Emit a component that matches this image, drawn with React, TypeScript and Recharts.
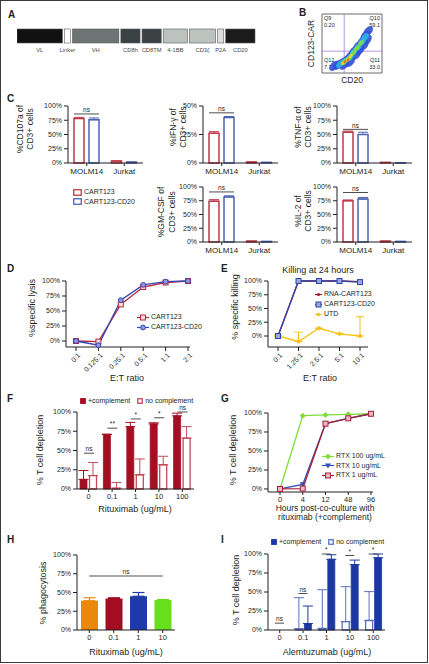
import React from "react";
import {
  BarChart,
  Bar,
  LineChart,
  Line,
  ScatterChart,
  Scatter,
  XAxis,
  YAxis,
  ErrorBar,
  ReferenceLine,
  ReferenceArea,
  LabelList,
  Legend,
} from "recharts";

// ---------- data ----------

// A: CAR construct, segment lengths as drawn
const constructParts = ["VL", "Linker", "VH", "CD8h", "CD8TM", "4-1BB", "CD3ζ", "P2A", "CD20"];
const constructLengths = [47, 8, 48, 21, 21, 26, 28, 8, 31];

// B: flow plot
const quadrantNames = ["Q9", "Q10", "Q12", "Q11"];
const quadrantValues = ["0.20", "59.1", "7.73", "33.0"];
const quadrantCutX = 37;
const quadrantCutY = 37;
const flowX = [20, 27, 33, 40, 47, 53, 60, 67, 72, 77, 37, 47, 57, 63, 70, 75, 30, 38, 47, 53, 60, 67, 72, 37, 45, 52, 58, 65, 35, 42, 48, 38, 43];
const flowY = [12, 14, 17, 22, 29, 37, 46, 54, 63, 71, 14, 19, 31, 39, 47, 56, 15, 20, 27, 36, 44, 53, 61, 19, 25, 34, 42, 51, 17, 22, 29, 19, 22];
const flowLevel = [0, 0, 0, 0, 0, 0, 0, 0, 0, 0, 0, 0, 0, 0, 0, 0, 1, 1, 1, 1, 1, 1, 1, 2, 2, 2, 2, 2, 3, 3, 3, 4, 4];

// C: cytokines (CD107a, IFN-γ, TNF-α, GM-CSF, IL-2)
const targetCells = ["MOLM14", "Jurkat"];
const molm14CART123 = [78, 26, 54, 74, 75];
const molm14CART123Err = [2, 1.5, 2, 3, 1.5];
const molm14CD20 = [76, 40, 50, 82, 78];
const molm14CD20Err = [3, 0.8, 4, 2, 3];
const jurkatCART123 = [3.5, 0.8, 1, 1.5, 1.5];
const jurkatCD20 = [1.5, 0.5, 0.3, 1, 1];
const cytokineNsHeight = [86, 44, 59, 91, 90];

// D: lysis
const etRatiosD = ["0:1", "0.125:1", "0.25:1", "0.5:1", "1:1", "2:1"];
const lysisCART123 = [0, -1, 61, 90, 97.5, 100];
const lysisCD20 = [0, -7, 68, 93.5, 99, 100];

// E: killing at 24 h
const etRatiosE = ["0:1", "1.25:1", "2.5:1", "5:1", "10:1"];
const killRNA = [0, 100, 100, 100, 99];
const killCD20 = [0, 100, 100, 100, 98];
const killUTD = [0, -10, 14, 4, 0];
const killUTDErr = [0, 17, 0, 0, 35];

// F: rituximab depletion
const rituxDoses = ["0", "0.1", "1", "10", "100"];
const rituxComp = [12.5, 71, 81, 84.5, 95];
const rituxCompErr = [11.5, 0, 5.5, 1.5, 3.5];
const rituxNoComp = [17.5, 1, 18.5, 31.5, 66];
const rituxNoCompErr = [17, 7.5, 20.5, 11, 15];
const rituxSig = ["ns", "**", "*", "*", "ns"];
const rituxSigHeight = [46.5, 79, 91, 92.5, 100];

// G: kinetics
const hours = ["0", "4", "12", "48", "96"];
const rtx100 = [0, 96.5, 97.5, 98.2, 99];
const rtx10 = [0, 6, 86, 93, 99];
const rtx1 = [0, 0.5, 86, 93, 99];

// H: phagocytosis
const phagoDoses = ["0", "0.1", "1", "10"];
const phagocytosis = [39, 42, 45, 40];
const phagocytosisErr = [4, 1, 5, 0.5];
const phagoNsHeight = 72;

// I: alemtuzumab depletion
const alemDoses = ["0", "0.1", "1", "10", "100"];
const alemNoComp = [0, 1.5, 2, 11, 12.5];
const alemNoCompErr = [0, 41, 51, 46, 38];
const alemComp = [0, 8.5, 93, 86, 95];
const alemCompErr = [0, 23, 6, 6, 5];
const alemSig = ["ns", "ns", "*", "*", "*"];
const alemSigHeight = [9, 48, 100, 98, 100];

// ---------- styles ----------
const FONT = "'Liberation Sans', Arial, Helvetica, 'DejaVu Sans', sans-serif";
const INK = "#231f20";
const pctTicks = [0, 25, 50, 75, 100];
const pct = (v: number) => `${v}%`;
const tick7 = { fontSize: 7, fill: INK, fontFamily: FONT };
const cat8 = { fontSize: 8, fill: INK, fontFamily: FONT };
const cat75 = { fontSize: 7.5, fill: INK, fontFamily: FONT };

const constructFill: Record<string, string> = {
  VL: "#111111",
  Linker: "#ffffff",
  VH: "#6e7473",
  CD8h: "#3c4143",
  CD8TM: "#3c4143",
  "4-1BB": "#bcc3bf",
  "CD3ζ": "#bcc3bf",
  P2A: "#dcdedd",
  CD20: "#1b1b1b",
};
const blobColor = ["#3150d6", "#2cb6e0", "#84df3e", "#f2d31f", "#e8642a"];
const blobR = [4.6, 3.5, 2.6, 1.9, 1.3];

const C_RED = "#be3a4a";
const C_BLUE = "#4d64b3";
const D_RED = "#b3283d";
const D_BLUE = "#3446b0";
const E_RED = "#a3132b";
const E_BLUE = "#2b46a8";
const E_YEL = "#f3c316";
const F_RED = "#a50f24";
const F_PINK = "#c24a5a";
const G_GREEN = "#7fdc3c";
const G_BLUE = "#3350b3";
const G_RED = "#a8213b";
const H_COLORS = ["#e8890c", "#a30d22", "#1e3aa8", "#66df1d"];
const I_BLUE = "#1c38a2";
const I_LIGHT = "#5a70bd";

// ---------- helpers ----------
type Box = { x0: number; y0: number; x1: number; y1: number };

function canvas(b: Box, left: number, top: number, right: number, bottom: number) {
  return {
    left,
    top,
    width: right - left,
    height: bottom - top,
    margin: { top: b.y0 - top, right: right - b.x1, bottom: 0, left: 0 },
    yw: b.x0 - left,
    xh: bottom - b.y1,
  };
}

const At = ({ f, children }: { f: { left: number; top: number }; children: React.ReactNode }) => (
  <div style={{ position: "absolute", left: f.left, top: f.top }}>{children}</div>
);

function yTitle(lines: string[], xs: number[], cy?: number, size = 8.5) {
  return (p: any) => {
    const vb = p.viewBox ?? {};
    const y = cy ?? (vb.y ?? 0) + (vb.height ?? 0) / 2;
    return (
      <g>
        {lines.map((t, i) => (
          <text
            key={i}
            x={xs[i]}
            y={y}
            transform={`rotate(-90 ${xs[i]} ${y})`}
            textAnchor="middle"
            dominantBaseline="central"
            fontSize={size}
            fontFamily={FONT}
            fill={INK}
          >
            {t}
          </text>
        ))}
      </g>
    );
  };
}

function xTitle(lines: string[], x: number, ys: number[], size = 8.5) {
  return () => (
    <g>
      {lines.map((t, i) => (
        <text key={i} x={x} y={ys[i]} textAnchor="middle" dominantBaseline="central" fontSize={size} fontFamily={FONT} fill={INK}>
          {t}
        </text>
      ))}
    </g>
  );
}

const SlantTick = (p: any) => {
  const x = p.x + 3;
  const y = p.y + 1;
  return (
    <text x={x} y={y} transform={`rotate(-45 ${x} ${y})`} textAnchor="end" dominantBaseline="central" fontSize={7} fontFamily={FONT} fill={INK}>
      {p.payload.value}
    </text>
  );
};

// significance bracket drawn on top of an invisible bar
const SigMark = (p: any) => {
  const label = p.payload?.sig;
  if (!label || p.value == null) return <g />;
  return (
    <g>
      <line x1={p.x} x2={p.x + p.width} y1={p.y} y2={p.y} stroke={INK} strokeWidth={0.8} />
      <text x={p.x + p.width / 2} y={p.y - 1.8} textAnchor="middle" fontSize={6.5} fontFamily={FONT} fill={INK}>
        {label}
      </text>
    </g>
  );
};

function legendList(order: string[], icons: Record<string, React.ReactNode>, dir: "row" | "column", gap: number) {
  return (props: any) => {
    const items: any[] = props.payload ?? [];
    return (
      <div
        style={{
          display: "flex",
          flexDirection: dir,
          gap,
          fontFamily: FONT,
          fontSize: 7,
          color: INK,
          lineHeight: "8px",
          whiteSpace: "nowrap",
        }}
      >
        {order.map((k) => {
          const e = items.find((it) => it.dataKey === k);
          if (!e) return null;
          return (
            <div key={k} style={{ display: "flex", alignItems: "center", gap: 2 }}>
              {icons[k]}
              <span>{e.value}</span>
            </div>
          );
        })}
      </div>
    );
  };
}

const boxIcon = (stroke: string, fill: string, w = 9, h = 7) => (
  <svg width={w} height={h} style={{ display: "block" }}>
    <rect x={0.75} y={0.75} width={w - 1.5} height={h - 1.5} fill={fill} stroke={stroke} strokeWidth={1.3} />
  </svg>
);

const lineIcon = (color: string, marker: React.ReactNode, w = 12) => (
  <svg width={w} height={7} style={{ display: "block" }}>
    <line x1={0} x2={w} y1={3.5} y2={3.5} stroke={color} strokeWidth={1.2} />
    {marker}
  </svg>
);

const sqDot = (stroke: string, fill: string, s = 5) => (p: any) => (
  <rect key={p.index} x={p.cx - s / 2} y={p.cy - s / 2} width={s} height={s} fill={fill} stroke={stroke} strokeWidth={1} />
);
const circDot = (stroke: string, fill: string, r = 2.5) => (p: any) => (
  <circle key={p.index} cx={p.cx} cy={p.cy} r={r} fill={fill} stroke={stroke} strokeWidth={1} />
);
const diamondDot = (color: string, s = 3) => (p: any) => (
  <path key={p.index} d={`M${p.cx},${p.cy - s}L${p.cx + s},${p.cy}L${p.cx},${p.cy + s}L${p.cx - s},${p.cy}Z`} fill={color} />
);
const triDot = (color: string, s = 3) => (p: any) => (
  <path key={p.index} d={`M${p.cx - s},${p.cy - s * 0.7}L${p.cx + s},${p.cy - s * 0.7}L${p.cx},${p.cy + s}Z`} fill={color} />
);

const Letter = ({ ch, x, y }: { ch: string; x: number; y: number }) => (
  <div style={{ position: "absolute", left: x, top: y, fontFamily: FONT, fontWeight: 700, fontSize: 10, lineHeight: "10px", color: INK }}>
    {ch}
  </div>
);

// ---------- A ----------
function ConstructPanel() {
  const row = [Object.fromEntries([["name", "CAR"], ...constructParts.map((p, i) => [p, constructLengths[i]])])];
  const total = constructLengths.reduce((a, b) => a + b, 0);
  return (
    <div style={{ position: "absolute", left: 17, top: 22 }}>
      <BarChart width={240} height={44} layout="vertical" data={row} margin={{ top: 0, right: 0, bottom: 16, left: 0 }}>
        <XAxis type="number" domain={[0, total]} hide />
        <YAxis type="category" dataKey="name" hide />
        {constructParts.map((part) => (
          <Bar
            key={part}
            dataKey={part}
            stackId="car"
            barSize={14}
            isAnimationActive={false}
            shape={(p: any) => (
              <rect x={p.x} y={p.y} width={Math.max(p.width - 2, 0)} height={p.height} fill={constructFill[part]} stroke="#5a5a5a" strokeWidth={0.6} />
            )}
          >
            <LabelList
              content={(p: any) => (
                <text x={p.x + (p.width - 2) / 2} y={p.y + p.height + 9} textAnchor="middle" fontSize={5.8} fontFamily={FONT} fill="#4a4a4a">
                  {part}
                </text>
              )}
            />
          </Bar>
        ))}
      </BarChart>
    </div>
  );
}

// ---------- B ----------
const FlowBlob = (p: any) => {
  const lvl = p.payload.level;
  const r = blobR[lvl];
  return (
    <ellipse
      cx={p.cx}
      cy={p.cy}
      rx={r * 1.3}
      ry={r * 0.8}
      transform={`rotate(-48 ${p.cx} ${p.cy})`}
      fill={blobColor[lvl]}
      fillOpacity={0.9}
    />
  );
};

function FlowPanel() {
  const f = canvas({ x0: 322, y0: 14, x1: 382, y1: 73 }, 304, 10, 386, 87);
  const data = flowX.map((x, i) => ({ x, y: flowY[i], level: flowLevel[i] }));
  const quadLabels = (p: any) => {
    const vb = p.viewBox;
    const L = vb.x + 2;
    const R = vb.x + vb.width - 2;
    const T = vb.y + 4;
    const B = vb.y + vb.height - 13;
    const spots = [
      [L, T, "start"],
      [R, T, "end"],
      [L, B, "start"],
      [R, B, "end"],
    ] as const;
    return (
      <g>
        {spots.map(([x, y, a], i) => (
          <g key={i}>
            <text x={x} y={y} textAnchor={a} dominantBaseline="central" fontSize={5.5} fontFamily={FONT} fill={INK}>
              {quadrantNames[i]}
            </text>
            <text x={x} y={y + 7} textAnchor={a} dominantBaseline="central" fontSize={5.5} fontFamily={FONT} fill={INK}>
              {quadrantValues[i]}
            </text>
          </g>
        ))}
      </g>
    );
  };
  return (
    <At f={f}>
      <ScatterChart width={f.width} height={f.height} margin={f.margin}>
        <XAxis
          type="number"
          dataKey="x"
          domain={[0, 100]}
          height={f.xh}
          tick={false}
          tickLine={false}
          axisLine={false}
          label={xTitle(["CD20"], 352 - f.left, [80 - f.top], 8.5)}
        />
        <YAxis
          type="number"
          dataKey="y"
          domain={[0, 100]}
          width={f.yw}
          tick={false}
          tickLine={false}
          axisLine={false}
          label={yTitle(["CD123-CAR"], [311 - f.left], undefined, 8.5)}
        />
        <Scatter data={data} shape={FlowBlob} isAnimationActive={false} />
        <ReferenceLine x={quadrantCutX} stroke="#a27dd6" strokeWidth={0.8} />
        <ReferenceLine y={quadrantCutY} stroke="#a27dd6" strokeWidth={0.8} />
        <ReferenceArea x1={0} x2={100} y1={0} y2={100} fill="none" stroke="#444" strokeWidth={0.8} label={quadLabels} />
      </ScatterChart>
    </At>
  );
}

// ---------- C ----------
function CytokinePanel({
  k,
  box,
  area,
  yMax,
  titles,
  titleXs,
  titleCy,
  legend,
}: {
  k: number;
  box: Box;
  area: [number, number, number, number];
  yMax: number;
  titles: string[];
  titleXs: number[];
  titleCy: number;
  legend?: boolean;
}) {
  const f = canvas(box, ...area);
  const data = targetCells.map((cell, i) => ({
    cell,
    cart123: i === 0 ? molm14CART123[k] : jurkatCART123[k],
    cart123Err: [0, i === 0 ? molm14CART123Err[k] : 0],
    cd20: i === 0 ? molm14CD20[k] : jurkatCD20[k],
    cd20Err: [0, i === 0 ? molm14CD20Err[k] : 0],
    nsH: i === 0 ? cytokineNsHeight[k] : null,
    sig: i === 0 ? "ns" : "",
  }));
  const ticks = pctTicks.filter((t) => t <= yMax);
  return (
    <At f={f}>
      <BarChart width={f.width} height={f.height} margin={f.margin} data={data} barSize={10} barGap={5}>
        <XAxis dataKey="cell" height={f.xh} tick={cat8} tickSize={3} stroke={INK} interval={0} />
        <XAxis xAxisId="sig" dataKey="cell" hide />
        <YAxis
          width={f.yw}
          domain={[0, yMax]}
          ticks={ticks}
          tickFormatter={pct}
          tick={tick7}
          tickSize={4}
          stroke={INK}
          interval={0}
          label={yTitle(titles, titleXs.map((x) => x - f.left), titleCy - f.top)}
        />
        <Bar dataKey="cart123" name="CART123" fill="#fff" stroke={C_RED} strokeWidth={1.5} isAnimationActive={false}>
          <ErrorBar dataKey="cart123Err" width={5} stroke={C_RED} strokeWidth={1} direction="y" />
        </Bar>
        <Bar dataKey="cd20" name="CART123-CD20" fill="#fff" stroke={C_BLUE} strokeWidth={1.5} isAnimationActive={false}>
          <ErrorBar dataKey="cd20Err" width={5} stroke={C_BLUE} strokeWidth={1} direction="y" />
        </Bar>
        <Bar xAxisId="sig" dataKey="nsH" barSize={25} shape={SigMark} legendType="none" isAnimationActive={false} />
        {legend && (
          <Legend
            layout="horizontal"
            verticalAlign="middle"
            align="center"
            wrapperStyle={{ left: 73 - f.left, top: 188 - f.top, width: "auto" }}
            content={legendList(
              ["cart123", "cd20"],
              { cart123: boxIcon(C_RED, "#fff"), cd20: boxIcon(C_BLUE, "#fff") },
              "column",
              1.5
            )}
          />
        )}
      </BarChart>
    </At>
  );
}

// ---------- D ----------
function LysisPanel() {
  const f = canvas({ x0: 66, y0: 281, x1: 190, y1: 347 }, 22, 262, 205, 385);
  const data = etRatiosD.map((ratio, i) => ({ ratio, cart123: lysisCART123[i], cd20: lysisCD20[i] }));
  return (
    <At f={f}>
      <LineChart width={f.width} height={f.height} margin={f.margin} data={data}>
        <XAxis
          dataKey="ratio"
          height={f.xh}
          padding={{ left: 10, right: 2 }}
          tick={SlantTick}
          tickSize={4}
          stroke={INK}
          interval={0}
          label={xTitle(["E:T ratio"], 127 - f.left, [378 - f.top], 9)}
        />
        <YAxis
          width={f.yw}
          domain={[-10, 100]}
          ticks={pctTicks}
          tickFormatter={pct}
          tick={tick7}
          tickSize={4}
          stroke={INK}
          interval={0}
          label={yTitle(["%specific lysis"], [32 - f.left], 308 - f.top, 9)}
        />
        <Line dataKey="cart123" name="CART123" stroke={D_RED} strokeWidth={1.3} dot={sqDot(D_RED, "#f6dde2", 5)} isAnimationActive={false} />
        <Line dataKey="cd20" name="CART123-CD20" stroke={D_BLUE} strokeWidth={1.3} dot={circDot(D_BLUE, "#8e9be0", 2.4)} isAnimationActive={false} />
        <Legend
          layout="horizontal"
          verticalAlign="middle"
          align="center"
          wrapperStyle={{ left: 137 - f.left, top: 313 - f.top, width: "auto" }}
          content={legendList(
            ["cart123", "cd20"],
            {
              cart123: lineIcon(D_RED, <rect x={3.5} y={1} width={5} height={5} fill="#f6dde2" stroke={D_RED} strokeWidth={1} />),
              cd20: lineIcon(D_BLUE, <circle cx={6} cy={3.5} r={2.4} fill="#8e9be0" stroke={D_BLUE} strokeWidth={1} />),
            },
            "column",
            2
          )}
        />
      </LineChart>
    </At>
  );
}

// ---------- E ----------
function KillingPanel() {
  const f = canvas({ x0: 268, y0: 281, x1: 368, y1: 347 }, 225, 262, 395, 385);
  const data = etRatiosE.map((ratio, i) => ({
    ratio,
    rna: killRNA[i],
    cd20: killCD20[i],
    utd: killUTD[i],
    utdErr: [0, killUTDErr[i]],
  }));
  return (
    <>
      <div style={{ position: "absolute", left: 258, top: 265, width: 120, textAlign: "center", fontFamily: FONT, fontSize: 9, lineHeight: "10px", color: INK }}>
        Killing at 24 hours
      </div>
      <At f={f}>
        <LineChart width={f.width} height={f.height} margin={f.margin} data={data}>
          <XAxis
            dataKey="ratio"
            height={f.xh}
            padding={{ left: 10, right: 8 }}
            tick={SlantTick}
            tickSize={4}
            stroke={INK}
            interval={0}
            label={xTitle(["E:T ratio"], 320 - f.left, [378 - f.top], 9)}
          />
          <YAxis
            width={f.yw}
            domain={[-20, 100]}
            ticks={pctTicks}
            tickFormatter={pct}
            tick={tick7}
            tickSize={4}
            stroke={INK}
            interval={0}
            label={yTitle(["% specific killing"], [235 - f.left], 307 - f.top, 9)}
          />
          <Line dataKey="utd" name="UTD" stroke={E_YEL} strokeWidth={1.3} dot={circDot(E_YEL, E_YEL, 1.6)} isAnimationActive={false}>
            <ErrorBar dataKey="utdErr" width={4} stroke={E_YEL} strokeWidth={1} direction="y" />
          </Line>
          <Line dataKey="rna" name="RNA-CART123" stroke={E_RED} strokeWidth={1.3} dot={circDot(E_RED, E_RED, 1.5)} isAnimationActive={false} />
          <Line dataKey="cd20" name="CART123-CD20" stroke={E_BLUE} strokeWidth={1.3} dot={sqDot(E_BLUE, "#9aa6dc", 5)} isAnimationActive={false} />
          <Legend
            layout="horizontal"
            verticalAlign="middle"
            align="center"
            wrapperStyle={{ left: 315 - f.left, top: 290 - f.top, width: "auto" }}
            content={legendList(
              ["rna", "cd20", "utd"],
              {
                rna: lineIcon(E_RED, <circle cx={3.5} cy={3.5} r={1.5} fill={E_RED} />, 7),
                cd20: lineIcon(E_BLUE, <rect x={1} y={1} width={5} height={5} fill="#9aa6dc" stroke={E_BLUE} strokeWidth={1} />, 7),
                utd: lineIcon(E_YEL, <circle cx={3.5} cy={3.5} r={1.8} fill={E_YEL} />, 7),
              },
              "column",
              2
            )}
          />
        </LineChart>
      </At>
    </>
  );
}

// ---------- F ----------
function RituxPanel() {
  const f = canvas({ x0: 77, y0: 412, x1: 194, y1: 489 }, 30, 396, 200, 515);
  const data = rituxDoses.map((dose, i) => ({
    dose,
    comp: rituxComp[i],
    compErr: [0, rituxCompErr[i]],
    noComp: rituxNoComp[i],
    noCompErr: [0, rituxNoCompErr[i]],
    sigH: rituxSigHeight[i],
    sig: rituxSig[i],
  }));
  return (
    <At f={f}>
      <BarChart width={f.width} height={f.height} margin={f.margin} data={data} barSize={7} barGap={2.5}>
        <XAxis
          dataKey="dose"
          height={f.xh}
          tick={cat75}
          tickSize={3}
          stroke={INK}
          interval={0}
          label={xTitle(["Rituximab (ug/mL)"], 135 - f.left, [509 - f.top], 9)}
        />
        <XAxis xAxisId="sig" dataKey="dose" hide />
        <YAxis
          width={f.yw}
          domain={[0, 100]}
          ticks={pctTicks}
          tickFormatter={pct}
          tick={tick7}
          tickSize={4}
          stroke={INK}
          interval={0}
          label={yTitle(["% T cell depletion"], [40 - f.left], 450 - f.top, 9)}
        />
        <Bar dataKey="comp" name="+complement" fill={F_RED} stroke={F_RED} strokeWidth={0.8} isAnimationActive={false}>
          <ErrorBar dataKey="compErr" width={5} stroke={F_RED} strokeWidth={1} direction="y" />
        </Bar>
        <Bar dataKey="noComp" name="no complement" fill="#fff" stroke={F_PINK} strokeWidth={1.3} isAnimationActive={false}>
          <ErrorBar dataKey="noCompErr" width={5} stroke={F_PINK} strokeWidth={1} direction="y" />
        </Bar>
        <Bar xAxisId="sig" dataKey="sigH" barSize={10} shape={SigMark} legendType="none" isAnimationActive={false} />
        <Legend
          layout="horizontal"
          verticalAlign="middle"
          align="center"
          wrapperStyle={{ left: 80 - f.left, top: 397 - f.top, width: "auto" }}
          content={legendList(
            ["comp", "noComp"],
            { comp: boxIcon(F_RED, F_RED, 6, 6), noComp: boxIcon(F_PINK, "#fff", 6, 6) },
            "row",
            7
          )}
        />
      </BarChart>
    </At>
  );
}

// ---------- G ----------
function KineticsPanel() {
  const f = canvas({ x0: 268, y0: 413, x1: 373, y1: 492 }, 225, 404, 395, 522);
  const data = hours.map((h, i) => ({ h, rtx100: rtx100[i], rtx10: rtx10[i], rtx1: rtx1[i] }));
  return (
    <At f={f}>
      <LineChart width={f.width} height={f.height} margin={f.margin} data={data}>
        <XAxis
          dataKey="h"
          height={f.xh}
          padding={{ left: 12, right: 2 }}
          tick={cat75}
          tickSize={3}
          stroke={INK}
          interval={0}
          label={xTitle(["Hours post-co-culture with", "rituximab (+complement)"], 325 - f.left, [508 - f.top, 517 - f.top], 8.5)}
        />
        <YAxis
          width={f.yw}
          domain={[-4, 100]}
          ticks={pctTicks}
          tickFormatter={pct}
          tick={tick7}
          tickSize={4}
          stroke={INK}
          interval={0}
          label={yTitle(["% T cell depletion"], [233 - f.left], 450 - f.top, 9)}
        />
        <Line dataKey="rtx100" name="RTX 100 ug/mL" stroke={G_GREEN} strokeWidth={1.3} dot={diamondDot(G_GREEN, 3)} isAnimationActive={false} />
        <Line dataKey="rtx10" name="RTX 10 ug/mL" stroke={G_BLUE} strokeWidth={1.3} dot={triDot(G_BLUE, 3)} isAnimationActive={false} />
        <Line dataKey="rtx1" name="RTX 1 ug/mL" stroke={G_RED} strokeWidth={1.3} dot={sqDot(G_RED, "#e8b9c2", 5)} isAnimationActive={false} />
        <Legend
          layout="horizontal"
          verticalAlign="middle"
          align="center"
          wrapperStyle={{ left: 322 - f.left, top: 452 - f.top, width: "auto" }}
          content={legendList(
            ["rtx100", "rtx10", "rtx1"],
            {
              rtx100: lineIcon(G_GREEN, <path d="M6,0.5L9,3.5L6,6.5L3,3.5Z" fill={G_GREEN} />),
              rtx10: lineIcon(G_BLUE, <path d="M3,1.4L9,1.4L6,6.5Z" fill={G_BLUE} />),
              rtx1: lineIcon(G_RED, <rect x={3.5} y={1} width={5} height={5} fill="#e8b9c2" stroke={G_RED} strokeWidth={1} />),
            },
            "column",
            1.5
          )}
        />
      </LineChart>
    </At>
  );
}

// ---------- H ----------
function PhagoPanel() {
  const f = canvas({ x0: 77, y0: 555, x1: 175, y1: 630 }, 33, 546, 190, 659);
  // one stacked series per dose so each bar and its error bar keep their own colour
  const data = phagoDoses.map((dose, i) => {
    const row: Record<string, unknown> = { dose };
    row[`v${i}`] = phagocytosis[i];
    row[`e${i}`] = [0, phagocytosisErr[i]];
    return row;
  });
  return (
    <At f={f}>
      <BarChart width={f.width} height={f.height} margin={f.margin} data={data} barSize={17}>
        <XAxis
          dataKey="dose"
          height={f.xh}
          tick={cat75}
          tickSize={3}
          stroke={INK}
          interval={0}
          label={xTitle(["Rituximab (ug/mL)"], 126 - f.left, [652 - f.top], 9)}
        />
        <YAxis
          width={f.yw}
          domain={[0, 100]}
          ticks={pctTicks}
          tickFormatter={pct}
          tick={tick7}
          tickSize={4}
          stroke={INK}
          interval={0}
          label={yTitle(["% phagocytosis"], [43 - f.left], 593 - f.top, 9)}
        />
        {phagoDoses.map((dose, i) => (
          <Bar key={dose} dataKey={`v${i}`} stackId="phago" fill={H_COLORS[i]} isAnimationActive={false}>
            <ErrorBar dataKey={`e${i}`} width={6} stroke={H_COLORS[i]} strokeWidth={1.2} direction="y" />
          </Bar>
        ))}
        <ReferenceLine
          segment={[
            { x: "0", y: phagoNsHeight },
            { x: "10", y: phagoNsHeight },
          ]}
          stroke={INK}
          strokeWidth={0.8}
          label={{ value: "ns", position: "top", fontSize: 6.5, fill: INK, fontFamily: FONT, offset: 2 }}
        />
      </BarChart>
    </At>
  );
}

// ---------- I ----------
function AlemPanel() {
  const f = canvas({ x0: 268, y0: 554, x1: 385, y1: 630 }, 227, 537, 395, 659);
  const data = alemDoses.map((dose, i) => ({
    dose,
    noComp: alemNoComp[i],
    noCompErr: [0, alemNoCompErr[i]],
    comp: alemComp[i],
    compErr: [0, alemCompErr[i]],
    sigH: alemSigHeight[i],
    sig: alemSig[i],
  }));
  return (
    <At f={f}>
      <BarChart width={f.width} height={f.height} margin={f.margin} data={data} barSize={7} barGap={2}>
        <XAxis
          dataKey="dose"
          height={f.xh}
          tick={cat75}
          tickSize={3}
          stroke={INK}
          interval={0}
          label={xTitle(["Alemtuzumab (ug/mL)"], 327 - f.left, [652 - f.top], 9)}
        />
        <XAxis xAxisId="sig" dataKey="dose" hide />
        <YAxis
          width={f.yw}
          domain={[0, 100]}
          ticks={pctTicks}
          tickFormatter={pct}
          tick={tick7}
          tickSize={4}
          stroke={INK}
          interval={0}
          label={yTitle(["% T cell depletion"], [236 - f.left], 590 - f.top, 9)}
        />
        <Bar dataKey="noComp" name="no complement" fill="#fff" stroke={I_LIGHT} strokeWidth={1.3} isAnimationActive={false}>
          <ErrorBar dataKey="noCompErr" width={5} stroke={I_LIGHT} strokeWidth={1} direction="y" />
        </Bar>
        <Bar dataKey="comp" name="+complement" fill={I_BLUE} stroke={I_BLUE} strokeWidth={0.8} isAnimationActive={false}>
          <ErrorBar dataKey="compErr" width={5} stroke={I_BLUE} strokeWidth={1} direction="y" />
        </Bar>
        <Bar xAxisId="sig" dataKey="sigH" barSize={9} shape={SigMark} legendType="none" isAnimationActive={false} />
        <Legend
          layout="horizontal"
          verticalAlign="middle"
          align="center"
          wrapperStyle={{ left: 271 - f.left, top: 538 - f.top, width: "auto" }}
          content={legendList(
            ["comp", "noComp"],
            { comp: boxIcon(I_BLUE, I_BLUE, 6, 6), noComp: boxIcon(I_LIGHT, "#fff", 6, 6) },
            "row",
            7
          )}
        />
      </BarChart>
    </At>
  );
}

// ---------- page ----------
export default function App() {
  return (
    <div
      style={{
        position: "absolute",
        left: 0,
        top: 0,
        width: 429,
        height: 664,
        background: "#fff",
        overflow: "hidden",
        fontFamily: FONT,
      }}
    >
      <div
        style={{
          position: "absolute",
          left: 0,
          top: 0,
          width: 428,
          height: 663,
          border: "1px solid #3a3a3a",
          boxSizing: "border-box",
        }}
      />
      <Letter ch="A" x={8} y={10} />
      <Letter ch="B" x={299} y={8} />
      <Letter ch="C" x={7} y={94} />
      <Letter ch="D" x={7} y={264} />
      <Letter ch="E" x={221} y={264} />
      <Letter ch="F" x={7} y={394} />
      <Letter ch="G" x={221} y={394} />
      <Letter ch="H" x={7} y={535} />
      <Letter ch="I" x={221} y={535} />

      <ConstructPanel />
      <FlowPanel />

      <CytokinePanel k={0} box={{ x0: 68, y0: 106, x1: 143, y1: 163 }} area={[12, 98, 146, 180]} yMax={100} titles={["%CD107a of", "CD3+ cells"]} titleXs={[20, 30]} titleCy={129} legend />
      <CytokinePanel k={1} box={{ x0: 203, y0: 106, x1: 278, y1: 163 }} area={[165, 98, 281, 180]} yMax={50} titles={["%IFN-γ of", "CD3+ cells"]} titleXs={[173, 183]} titleCy={127} />
      <CytokinePanel k={2} box={{ x0: 337, y0: 106, x1: 412, y1: 163 }} area={[289, 98, 416, 180]} yMax={100} titles={["%TNF-α of", "CD3+ cells"]} titleXs={[298, 308]} titleCy={127} />
      <CytokinePanel k={3} box={{ x0: 203, y0: 187, x1: 278, y1: 242 }} area={[153, 179, 281, 259]} yMax={100} titles={["%GM-CSF of", "CD3+ cells"]} titleXs={[161, 172]} titleCy={212} />
      <CytokinePanel k={4} box={{ x0: 337, y0: 187, x1: 412, y1: 242 }} area={[289, 179, 416, 259]} yMax={100} titles={["%IL-2 of", "CD3+ cells"]} titleXs={[298, 308]} titleCy={211} />

      <LysisPanel />
      <KillingPanel />
      <RituxPanel />
      <KineticsPanel />
      <PhagoPanel />
      <AlemPanel />
    </div>
  );
}
